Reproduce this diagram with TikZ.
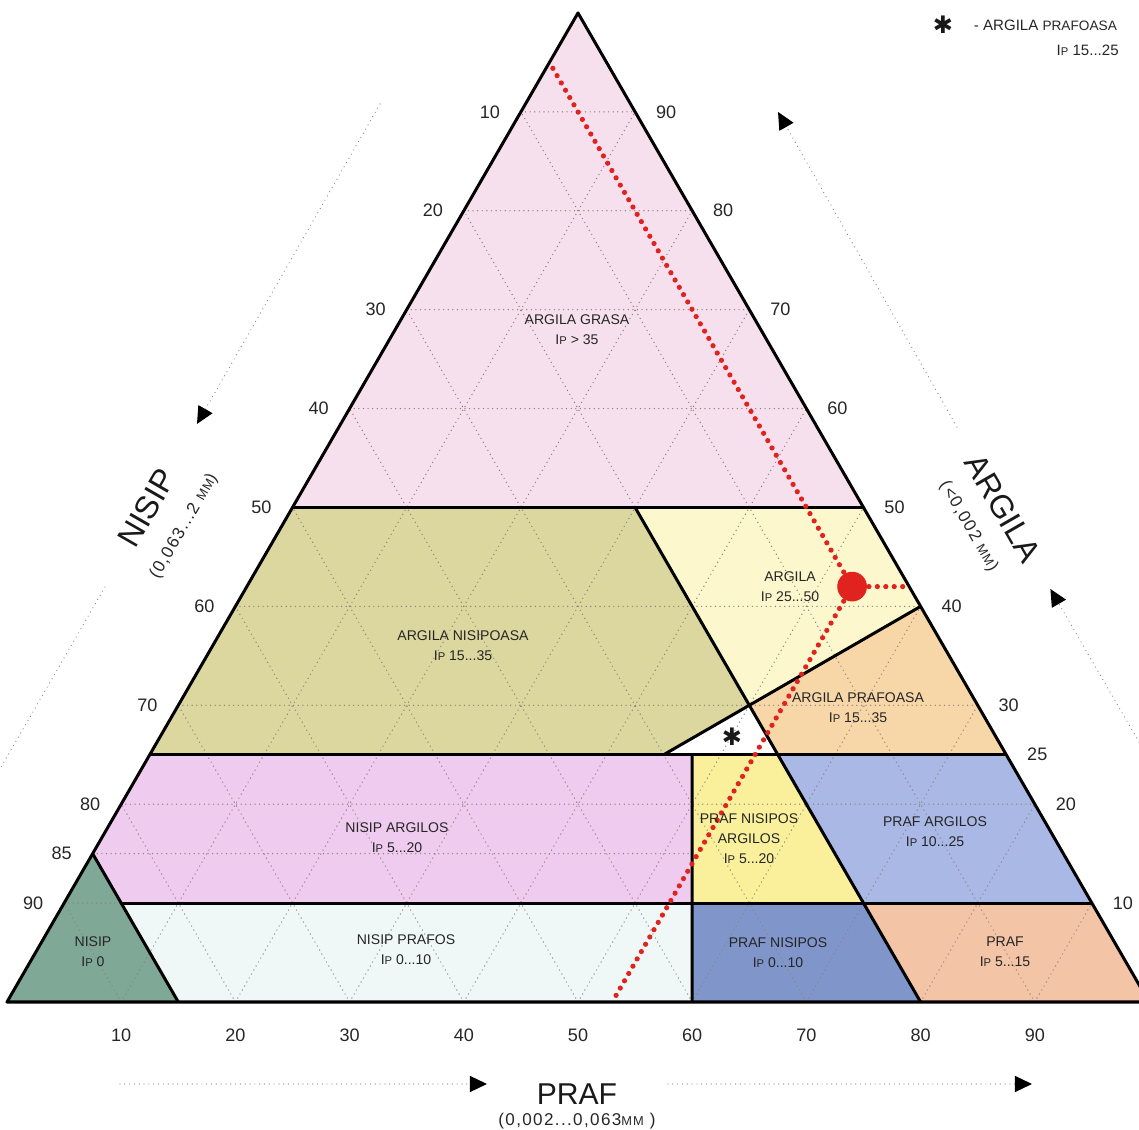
\documentclass[tikz,border=0pt]{standalone}
\usepackage{fontspec}
\setmainfont{Liberation Sans}
\newfontfamily\symfont{DejaVu Sans}
\usepackage{xcolor}
\usepackage{tikz}
\usetikzlibrary{arrows.meta}
\definecolor{pinkzone}{HTML}{F7E0EE}
\definecolor{olivezone}{HTML}{DCD79E}
\definecolor{paleyellow}{HTML}{FCF7CC}
\definecolor{paleorange}{HTML}{F7D7A8}
\definecolor{magentazone}{HTML}{F0CBF0}
\definecolor{palecyan}{HTML}{EFF8F6}
\definecolor{yellowzone}{HTML}{FAF09C}
\definecolor{lavenderzone}{HTML}{AAB8E6}
\definecolor{bluezone}{HTML}{8096CB}
\definecolor{salmonzone}{HTML}{F3C4A6}
\definecolor{tealzone}{HTML}{80A896}
\definecolor{reddot}{HTML}{E0231E}
\definecolor{griddot}{HTML}{8C8078}
\newcommand{\Ip}{I{\fontsize{5.6}{6}\selectfont P}}
\newcommand{\smallmm}{{\fontsize{6.4}{7}\selectfont MM}}
\tikzset{ grid_line/.style = {griddot, line width=0.7pt, dash pattern=on 0pt off 2.3pt, line cap=round} }
\tikzset{ zone_line/.style = {line width=1.5pt, line join=round} }
\tikzset{ red_dots/.style = {reddot, line width=2.6pt, dash pattern=on 0pt off 4.2pt, line cap=round} }
\tikzset{ axis_dots/.style = {gray, line width=0.6pt, dash pattern=on 0pt off 2.4pt, line cap=round} }
\tikzset{ axis_arrow/.style = {axis_dots, -{Triangle[length=8.5pt,width=8pt,color=black]}} }
\tikzset{ soil_label/.style = {align=center, font=\fontsize{7}{10}\selectfont, text=black!85} }
\tikzset{ tick_label/.style = {font=\fontsize{9}{10}\selectfont, text=black!85} }
\tikzset{ axis_name/.style = {font=\fontsize{15}{16}\selectfont, text=black!90} }
\tikzset{ axis_sub/.style = {font=\fontsize{8.5}{9}\selectfont\addfontfeatures{LetterSpace=8}, text=black!85} }
\tikzset{ star_mark/.style = {font=\symfont\fontsize{12}{12}\selectfont, text=black!90, inner sep=0pt} }

\begin{document}
\begin{tikzpicture}[x={(2cm,0cm)}, y={(1cm,1.7321cm)}]
  \useasboundingbox (-0.1226cm,-2.2417cm) rectangle (19.825cm,17.548cm);
  % corners and zone vertices (praf, argila)
  \coordinate (T) at (0,10);
  \coordinate (L) at (0,0);
  \coordinate (R) at (10,0);
  \coordinate (c50l) at (0,5);
  \coordinate (c50s) at (3,5);
  \coordinate (c50r) at (5,5);
  \coordinate (c40r) at (6,4);
  \coordinate (w1) at (5,3);
  \coordinate (w2) at (4.5,2.5);
  \coordinate (w3) at (5.5,2.5);
  \coordinate (c25l) at (0,2.5);
  \coordinate (c25v) at (4.75,2.5);
  \coordinate (c25r) at (7.5,2.5);
  \coordinate (c15l) at (0,1.5);
  \coordinate (c15v) at (5.25,1.5);
  \coordinate (c10a) at (0.5,1);
  \coordinate (c10v) at (5.5,1);
  \coordinate (c10s) at (7,1);
  \coordinate (c10r) at (9,1);
  \coordinate (b15) at (1.5,0);
  \coordinate (b60) at (6,0);
  \coordinate (b80) at (8,0);

  % zones
  \fill[pinkzone] (c50l) -- (c50r) -- (T) -- cycle;
  \fill[olivezone] (c50l) -- (c50s) -- (w1) -- (w2) -- (c25l) -- cycle;
  \fill[paleyellow] (c50s) -- (c50r) -- (c40r) -- (w1) -- cycle;
  \fill[paleorange] (w1) -- (c40r) -- (c25r) -- (w3) -- cycle;
  \fill[magentazone] (c25l) -- (c25v) -- (c10v) -- (c10a) -- (c15l) -- cycle;
  \fill[palecyan] (c10a) -- (c10v) -- (b60) -- (b15) -- cycle;
  \fill[tealzone] (L) -- (b15) -- (c15l) -- cycle;
  \fill[yellowzone] (c25v) -- (w3) -- (c10s) -- (c10v) -- cycle;
  \fill[lavenderzone] (w3) -- (c25r) -- (c10r) -- (c10s) -- cycle;
  \fill[bluezone] (c10v) -- (c10s) -- (b80) -- (b60) -- cycle;
  \fill[salmonzone] (c10s) -- (c10r) -- (R) -- (b80) -- cycle;

  % grid
  \foreach \k in {1,...,9} {
    \draw[grid_line] (0,\k) -- ({10-\k},\k);
    \draw[grid_line] (\k,0) -- (\k,{10-\k});
    \draw[grid_line] ({10-\k},0) -- (0,{10-\k});
  }
  \draw[grid_line] (c15l) -- (c15v);

  % zone borders
  \draw[zone_line] (L) -- (R) -- (T) -- cycle;
  \draw[zone_line] (c50l) -- (c50r);
  \draw[zone_line] (c25l) -- (c25r);
  \draw[zone_line] (c10a) -- (c10r);
  \draw[zone_line] (b15) -- (c15l);
  \draw[zone_line] (c25v) -- (b60);
  \draw[zone_line] (c50s) -- (b80);
  \draw[zone_line] (w2) -- (c40r);

  % sample point
  \coordinate (red_top) at (0.06,9.44);
  \coordinate (red_bot) at (5.3,0);
  \coordinate (red_side) at (5.8,4.2);
  \node[circle, fill=reddot, minimum size=0.52cm, inner sep=0pt] (sample) at (5.3,4.2) {};
  \draw[red_dots] (red_top) -- (sample.center);
  \draw[red_dots] (sample.center) -- (red_bot);
  \draw[red_dots] (sample.center) -- (red_side);

  % ticks
  \foreach \c/\v in {9/10,8/20,7/30,6/40,5/50,4/60,3/70,2/80,1.5/85,1/90}
    \node[tick_label, xshift=-0.543cm] (nisip\v) at (0,\c) {\v};
  \foreach \c/\v in {9/90,8/80,7/70,6/60,5/50,4/40,3/30,2.5/25,2/20,1/10}
    \node[tick_label, xshift=0.543cm] (argila\v) at ({10-\c},\c) {\v};
  \foreach \p/\v in {1/10,2/20,3/30,4/40,5/50,6/60,7/70,8/80,9/90}
    \node[tick_label, yshift=-0.578cm] (praf\v) at (\p,0) {\v};

  % zone names
  \node[soil_label] (grasa) at (9.982cm,11.769cm) {ARGILA GRASA\\\Ip\ > 35};
  \node[soil_label] (argila) at (13.713cm,7.268cm) {ARGILA\\\Ip\ 25...50};
  \node[soil_label] (arg_nis) at (7.986cm,6.235cm) {ARGILA NISIPOASA\\\Ip\ 15...35};
  \node[soil_label] (arg_praf) at (14.904cm,5.149cm) {ARGILA PRAFOASA\\\Ip\ 15...35};
  \node[star_mark] (white_mark) at (12.697cm,4.641cm) {✱};
  \node[soil_label] (nis_arg) at (6.830cm,2.872cm) {NISIP ARGILOS\\\Ip\ 5...20};
  \node[soil_label] (praf_nis_arg) at (12.995cm,2.855cm) {PRAF NISIPOS\\ARGILOS\\\Ip\ 5...20};
  \node[soil_label] (praf_arg) at (16.252cm,2.977cm) {PRAF ARGILOS\\\Ip\ 10...25};
  \node[soil_label] (nisip) at (1.506cm,0.876cm) {NISIP\\\Ip\ 0};
  \node[soil_label] (nis_praf) at (6.988cm,0.911cm) {NISIP PRAFOS\\\Ip\ 0...10};
  \node[soil_label] (praf_nis) at (13.503cm,0.858cm) {PRAF NISIPOS\\\Ip\ 0...10};
  \node[soil_label] (praf) at (17.478cm,0.876cm) {PRAF\\\Ip\ 5...15};

  % axis names
  \node[axis_name] (praf_name) at (9.982cm,-1.611cm) {PRAF};
  \node[axis_sub] (praf_sub) at (9.982cm,-2.085cm) {(0,002...0,063\smallmm\ )};
  \node[axis_name, rotate=60, font=\fontsize{16}{16}\selectfont] (nisip_name) at (2.45cm,8.65cm) {NISIP};
  \node[axis_sub, rotate=60] (nisip_sub) at (3.10cm,8.33cm) {(0,063...2 \smallmm)};
  \node[axis_name, rotate=-60, font=\fontsize{16}{16}\selectfont] (argila_name) at (17.44cm,8.65cm) {ARGILA};
  \node[axis_sub, rotate=-60] (argila_sub) at (16.84cm,8.33cm) {(<0,002 \smallmm)};

  % axis arrows
  \coordinate (nisip_a1) at (6.532cm,15.727cm);
  \coordinate (nisip_b1) at (3.327cm,10.123cm);
  \coordinate (nisip_a2) at (1.716cm,7.268cm);
  \coordinate (nisip_b2) at (-0.1226cm,4.081cm);
  \coordinate (arg_a1) at (16.637cm,10.070cm);
  \coordinate (arg_b1) at (13.503cm,15.587cm);
  \coordinate (arg_a2) at (19.825cm,4.553cm);
  \coordinate (arg_b2) at (18.273cm,7.233cm);
  \coordinate (praf_a1) at (1.979cm,-1.436cm);
  \coordinate (praf_b1) at (8.406cm,-1.436cm);
  \coordinate (praf_a2) at (11.576cm,-1.436cm);
  \coordinate (praf_b2) at (17.951cm,-1.436cm);
  \draw[axis_arrow] (nisip_a1) -- (nisip_b1);
  \draw[axis_dots] (nisip_a2) -- (nisip_b2);
  \draw[axis_arrow] (arg_a1) -- (arg_b1);
  \draw[axis_arrow] (arg_a2) -- (arg_b2);
  \draw[axis_arrow] (praf_a1) -- (praf_b1);
  \draw[axis_arrow] (praf_a2) -- (praf_b2);

  % key
  \node[star_mark] (key_mark) at (16.392cm,17.110cm) {✱};
  \node[anchor=west, font=\fontsize{7.5}{9}\selectfont, text=black!85] (key_text) at (16.81cm,17.110cm) {- ARGILA {\fontsize{6.8}{8}\selectfont PRAFOASA}};
  \node[anchor=west, font=\fontsize{7.5}{9}\selectfont, text=black!85] (key_ip) at (18.26cm,16.672cm) {\Ip\ 15...25};
\end{tikzpicture}
\end{document}
